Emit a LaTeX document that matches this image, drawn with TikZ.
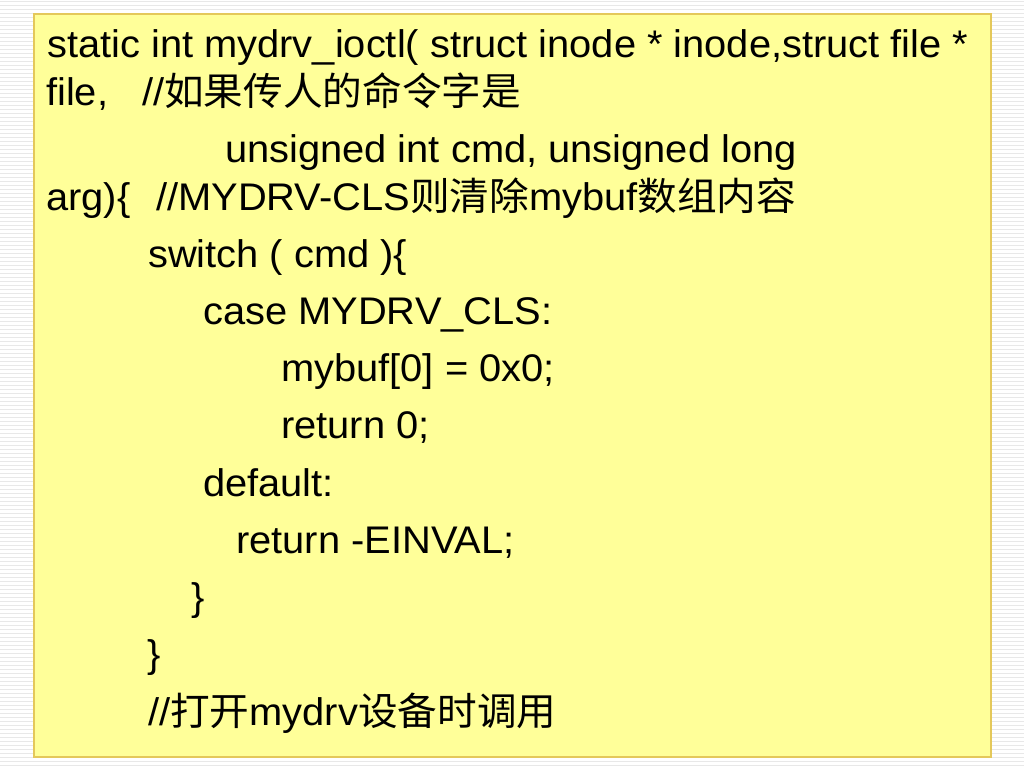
\documentclass[tikz,border=0pt]{standalone}
\usepackage{fontspec}
\setmainfont{Liberation Sans}[FakeStretch=1.035]
\newfontfamily\cjk{Noto Sans CJK SC}[FakeStretch=1.03]
\definecolor{boxfill}{RGB}{255,255,153}
\definecolor{boxline}{RGB}{228,200,90}
\definecolor{stripe}{RGB}{232,232,232}
\begin{document}
\begin{tikzpicture}[x=1pt,y=-1pt,
  code/.style={anchor=base west,inner sep=0pt,font=\fontsize{38.5}{44}\selectfont,text=black}]
\useasboundingbox (0,0) rectangle (1024,768);
\fill[white] (0,0) rectangle (1024,768);
\foreach \k in {0,...,191}{
  \draw[stripe,line width=1pt] (0,{1.5+4*\k}) -- (1024,{1.5+4*\k});
}
\draw[boxline,fill=boxfill,line width=1.5pt] (34,14) rectangle (991,757);
\node[code] (l1) at (47,57) {static int mydrv\_ioctl( struct inode * inode,struct file *};
\node[code] (l2a) at (46,105) {file,};
\node[code] (l2b) at (142,105) {//{\cjk 如果传人的命令字是}};
\node[code] (l3) at (225,162) {unsigned int cmd, unsigned long};
\node[code] (l4a) at (46,210) {arg)\{};
\node[code] (l4b) at (156,210) {//MYDRV-CLS{\cjk 则清除}mybuf{\cjk 数组内容}};
\node[code] (l5) at (148,267) {switch ( cmd )\{};
\node[code] (l6) at (203,324) {case MYDRV\_CLS:};
\node[code] (l7) at (281,381) {mybuf[0] = 0x0;};
\node[code] (l8) at (281,438) {return 0;};
\node[code] (l9) at (203,496) {default:};
\node[code] (l10) at (236,553) {return -EINVAL;};
\node[code] (l11) at (191,610) {\}};
\node[code] (l12) at (147,667) {\}};
\node[code] (l13) at (148,725) {//{\cjk 打开}mydrv{\cjk 设备时调用}};
\end{tikzpicture}
\end{document}
